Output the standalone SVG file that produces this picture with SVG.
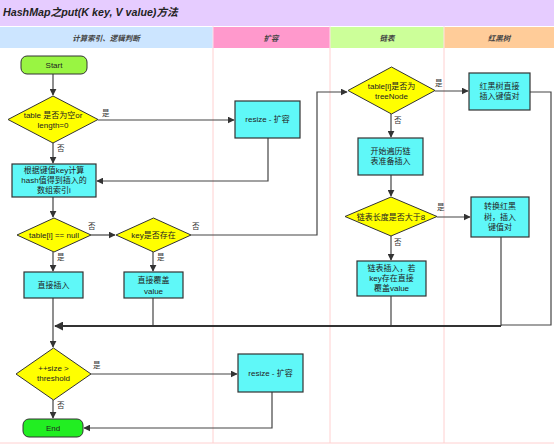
<svg xmlns="http://www.w3.org/2000/svg" width="554" height="446" viewBox="0 0 554 446">
<defs>
<marker id="ah" viewBox="0 0 10 10" refX="9" refY="5" markerWidth="7" markerHeight="7" markerUnits="userSpaceOnUse" orient="auto"><path d="M0,0 L10,5 L0,10 z" fill="#333"/></marker>
<marker id="ahb" viewBox="0 0 10 10" refX="9" refY="5" markerWidth="9" markerHeight="9" markerUnits="userSpaceOnUse" orient="auto"><path d="M0,0 L10,5 L0,10 z" fill="#333"/></marker>
<style>
text{font-family:"Liberation Sans","Noto Sans CJK SC",sans-serif;font-size:8px;fill:#222;text-anchor:middle}
.hd{font-style:italic;font-weight:bold;font-size:7.5px;fill:#444}
.box{fill:#5FF8F8;stroke:#333;stroke-width:1.2}
.dia{fill:#FFFF00;stroke:#333;stroke-width:1}
.ln{fill:none;stroke:#444;stroke-width:1.2}
.lbl{font-size:7.5px;fill:#333;text-anchor:start}
.lane{stroke:#FFD0D0;stroke-width:1;fill:none}
</style>
</defs>
<rect width="554" height="446" fill="#fff"/>
<rect x="0" y="0" width="554" height="26" fill="#E6CCFF"/>
<text x="3" y="16" style="font-size:10.7px;font-weight:bold;font-style:italic;text-anchor:start;fill:#222">HashMap之put(K key, V value)方法</text>
<rect x="0" y="27" width="213" height="21" fill="#CCE5FF"/>
<rect x="213" y="27" width="117" height="21" fill="#FF99CC"/>
<rect x="330" y="27" width="114" height="21" fill="#CCFF99"/>
<rect x="444" y="27" width="110" height="21" fill="#FFCC99"/>
<line x1="213" y1="26" x2="213" y2="48" stroke="#FFE0E8" stroke-width="1"/>
<line x1="330" y1="26" x2="330" y2="48" stroke="#FFE0E8" stroke-width="1"/>
<line x1="444" y1="26" x2="444" y2="48" stroke="#FFE0E8" stroke-width="1"/>
<text class="hd" x="106" y="40.5">计算索引、逻辑判断</text>
<text class="hd" x="271" y="40.5">扩容</text>
<text class="hd" x="387" y="40.5">链表</text>
<text class="hd" x="499" y="40.5">红黑树</text>
<g id="lanes">
<line class="lane" x1="213" y1="48" x2="213" y2="443"/>
<line class="lane" x1="330" y1="48" x2="330" y2="443"/>
<line class="lane" x1="444" y1="48" x2="444" y2="443"/>
<line class="lane" x1="0" y1="443" x2="554" y2="443"/>
</g>
<g id="connectors">
<line class="ln" x1="53" y1="74" x2="53" y2="95" marker-end="url(#ah)"/>
<line class="ln" x1="98" y1="120" x2="234" y2="120" marker-end="url(#ah)"/>
<line class="ln" x1="53" y1="143" x2="53" y2="163" marker-end="url(#ah)"/>
<polyline class="ln" points="268,138 268,181 97,181" marker-end="url(#ah)"/>
<line class="ln" x1="53" y1="197" x2="53" y2="217" marker-end="url(#ah)"/>
<line class="ln" x1="91" y1="235" x2="115" y2="235" marker-end="url(#ah)"/>
<polyline class="ln" points="191,235 317,235 317,92 347,92" marker-end="url(#ah)"/>
<line class="ln" x1="53" y1="252" x2="53" y2="271" marker-end="url(#ah)"/>
<line class="ln" x1="153" y1="252" x2="153" y2="271" marker-end="url(#ah)"/>
<line class="ln" x1="435" y1="91" x2="468" y2="91" marker-end="url(#ah)"/>
<line class="ln" x1="391" y1="114" x2="391" y2="137" marker-end="url(#ah)"/>
<line class="ln" x1="391" y1="175" x2="391" y2="196" marker-end="url(#ah)"/>
<line class="ln" x1="437" y1="217" x2="470" y2="217" marker-end="url(#ah)"/>
<line class="ln" x1="391" y1="236" x2="391" y2="260" marker-end="url(#ah)"/>
<polyline class="ln" points="530,92 551,92 551,325 501,325"/>
<line class="ln" x1="501" y1="237" x2="501" y2="326"/>
<line class="ln" x1="391" y1="296" x2="391" y2="326"/>
<line class="ln" x1="153" y1="298" x2="153" y2="326"/>
<line x1="501" y1="326" x2="55" y2="326" stroke="#333" stroke-width="2.2" marker-end="url(#ahb)"/>
<line class="ln" x1="53" y1="298" x2="53" y2="347" marker-end="url(#ah)"/>
<line class="ln" x1="91" y1="374" x2="237" y2="374" marker-end="url(#ah)"/>
<line class="ln" x1="53" y1="400" x2="53" y2="418" marker-end="url(#ah)"/>
<polyline class="ln" points="272,392 272,428 84,428" marker-end="url(#ah)"/>
<text class="lbl" x="102" y="116">是</text>
<text class="lbl" x="57" y="151">否</text>
<text class="lbl" x="88" y="229">否</text>
<text class="lbl" x="192" y="229">否</text>
<text class="lbl" x="57" y="260">是</text>
<text class="lbl" x="157" y="260">是</text>
<text class="lbl" x="435" y="86">是</text>
<text class="lbl" x="394" y="123">否</text>
<text class="lbl" x="437" y="210">是</text>
<text class="lbl" x="394" y="245">否</text>
<text class="lbl" x="93" y="368">是</text>
<text class="lbl" x="57" y="408">否</text>
</g>
<g id="start">
<rect x="21" y="56" width="66" height="18" rx="6" fill="#99F542" stroke="#333" stroke-width="1"/>
<text x="54" y="68">Start</text>
</g>
<g id="d-table-empty">
<polygon class="dia" points="53,96 98,119.5 53,143 8,119.5"/>
<text x="53" y="118">table 是否为空or</text>
<text x="53" y="128">length=0</text>
</g>
<g id="resize1">
<rect class="box" x="235" y="101" width="65" height="37"/>
<text x="267.5" y="122">resize - 扩容</text>
</g>
<g id="calc-index">
<rect class="box" x="12" y="164" width="84" height="33"/>
<text x="54" y="173">根据键值key计算</text>
<text x="54" y="183">hash值得到插入的</text>
<text x="54" y="193">数组索引i</text>
</g>
<g id="d-null">
<polygon class="dia" points="54,218 91,235 54,252 17,235"/>
<text x="54" y="238">table[i] == null</text>
</g>
<g id="d-key">
<polygon class="dia" points="153.5,218 191,235 153.5,252 116,235"/>
<text x="153.5" y="238">key是否存在</text>
</g>
<g id="insert">
<rect class="box" x="24" y="272" width="59" height="26"/>
<text x="53.5" y="288">直接插入</text>
</g>
<g id="overwrite">
<rect class="box" x="124" y="272" width="59" height="26"/>
<text x="153.5" y="283">直接覆盖</text>
<text x="153.5" y="294">value</text>
</g>
<g id="d-treenode">
<polygon class="dia" points="391.5,67 435,90.5 391.5,114 348,90.5"/>
<text x="391.5" y="89">table[i]是否为</text>
<text x="391.5" y="99">treeNode</text>
</g>
<g id="rb-insert">
<rect class="box" x="469" y="73" width="61" height="37"/>
<text x="499.5" y="89">红黑树直接</text>
<text x="499.5" y="99">插入键值对</text>
</g>
<g id="traverse">
<rect class="box" x="358" y="138" width="65" height="37"/>
<text x="390.5" y="154">开始遍历链</text>
<text x="390.5" y="164">表准备插入</text>
</g>
<g id="d-len">
<polygon class="dia" points="391,197 437,216.5 391,236 345,216.5"/>
<text x="391" y="219.5">链表长度是否大于8</text>
</g>
<g id="convert">
<rect class="box" x="471" y="197" width="58" height="40"/>
<text x="500" y="209">转换红黑</text>
<text x="500" y="219.5">树，插入</text>
<text x="500" y="230">键值对</text>
</g>
<g id="list-insert">
<rect class="box" x="357" y="261" width="69" height="35"/>
<text x="391.5" y="271">链表插入，若</text>
<text x="391.5" y="281">key存在直接</text>
<text x="391.5" y="291">覆盖value</text>
</g>
<g id="d-size">
<polygon class="dia" points="53.5,348 91,374 53.5,400 16,374"/>
<text x="53.5" y="371">++size &gt;</text>
<text x="53.5" y="381">threshold</text>
</g>
<g id="resize2">
<rect class="box" x="238" y="354" width="65" height="38"/>
<text x="270.5" y="376">resize - 扩容</text>
</g>
<g id="end">
<rect x="23" y="419" width="60" height="18" rx="6" fill="#22EE22" stroke="#333" stroke-width="1"/>
<text x="53" y="431">End</text>
</g>
</svg>
